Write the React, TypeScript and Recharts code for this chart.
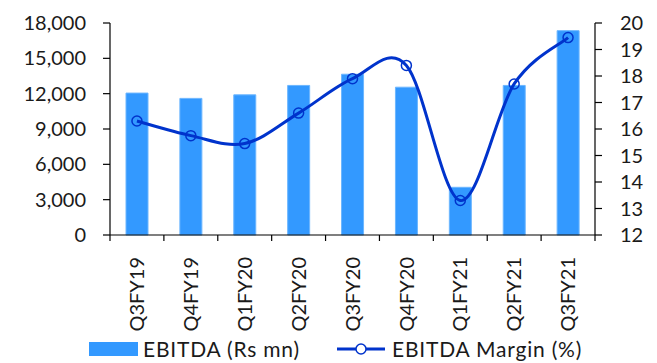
import { ComposedChart, Bar, Line, XAxis, YAxis, Legend } from "recharts";

const quarters = ["Q3FY19", "Q4FY19", "Q1FY20", "Q2FY20", "Q3FY20", "Q4FY20", "Q1FY21", "Q2FY21", "Q3FY21"];
const ebitda = [12050, 11600, 11900, 12700, 13650, 12550, 4050, 12700, 17350];
const ebitdaMargin = [16.3, 15.75, 15.45, 16.6, 17.9, 18.4, 13.3, 17.7, 19.45];
const leftTicks = [0, 3000, 6000, 9000, 12000, 15000, 18000];
const rightTicks = [12, 13, 14, 15, 16, 17, 18, 19, 20];

const BAR_COLOR = "#3399ff";
const LINE_COLOR = "#0033cc";
const TEXT_COLOR = "#1a1a1a";
const FONT = "Lato, 'Open Sans', sans-serif";

const data = quarters.map((q, i) => ({ q, ebitda: ebitda[i], margin: ebitdaMargin[i] }));

// Excel-style smoothed line (uniform Catmull-Rom as cubic beziers)
function smoothCurve(context: any) {
  let pts: [number, number][] = [];
  return {
    areaStart() {},
    areaEnd() {},
    lineStart() {
      pts = [];
    },
    point(x: number, y: number) {
      pts.push([+x, +y]);
    },
    lineEnd() {
      const n = pts.length;
      if (!n) return;
      context.moveTo(pts[0][0], pts[0][1]);
      for (let i = 0; i < n - 1; i++) {
        const p0 = pts[Math.max(i - 1, 0)];
        const p1 = pts[i];
        const p2 = pts[i + 1];
        const p3 = pts[Math.min(i + 2, n - 1)];
        context.bezierCurveTo(
          p1[0] + (p2[0] - p0[0]) / 6,
          p1[1] + (p2[1] - p0[1]) / 6,
          p2[0] - (p3[0] - p1[0]) / 6,
          p2[1] - (p3[1] - p1[1]) / 6,
          p2[0],
          p2[1]
        );
      }
    },
  };
}

function QuarterTick(props: any) {
  const { x, y, payload, index } = props;
  const half = payload?.offset ?? 27;
  const last = index === quarters.length - 1;
  return (
    <g transform={`translate(${x},${y})`}>
      <line x1={-half} x2={-half} y1={0} y2={6} stroke="#000" strokeWidth={1.2} />
      {last && <line x1={half} x2={half} y1={0} y2={6} stroke="#000" strokeWidth={1.2} />}
      <text
        transform="rotate(-90)"
        x={-22}
        y={0}
        dy="0.36em"
        textAnchor="end"
        fontSize={20}
        fontFamily={FONT}
        fill={TEXT_COLOR}
      >
        {payload.value}
      </text>
    </g>
  );
}

function LegendContent() {
  const label = {
    position: "absolute" as const,
    top: 2,
    fontSize: 21,
    letterSpacing: "0.8px",
    fontFamily: FONT,
    color: TEXT_COLOR,
    lineHeight: "24px",
    whiteSpace: "nowrap" as const,
  };
  return (
    <div style={{ position: "relative", width: 657, height: 28 }}>
      <div style={{ position: "absolute", left: 89, top: 7, width: 49, height: 14, background: BAR_COLOR }} />
      <span style={{ ...label, left: 143 }}>EBITDA (Rs mn)</span>
      <svg style={{ position: "absolute", left: 337, top: 4 }} width={48} height={20}>
        <line x1={0} x2={48} y1={10} y2={10} stroke={LINE_COLOR} strokeWidth={3} />
        <circle cx={24} cy={10} r={5} fill="#fff" stroke={LINE_COLOR} strokeWidth={1.5} />
      </svg>
      <span style={{ ...label, left: 392 }}>EBITDA Margin (%)</span>
    </div>
  );
}

export default function App() {
  const tick = { fontSize: 20, fontFamily: FONT, fill: TEXT_COLOR };
  return (
    <div style={{ position: "absolute", left: 0, top: 0, width: 657, height: 363, background: "#fff" }}>
      <ComposedChart width={657} height={363} data={data} margin={{ top: 23, right: 0, bottom: 0, left: 0 }}>
        <XAxis
          dataKey="q"
          interval={0}
          height={100}
          tickSize={0}
          tickMargin={0}
          tickLine={false}
          axisLine={{ stroke: "#000", strokeWidth: 1.2 }}
          tick={<QuarterTick />}
        />
        <YAxis
          yAxisId="left"
          width={110}
          domain={[0, 18000]}
          ticks={leftTicks}
          interval={0}
          tickSize={7}
          tickMargin={17}
          tick={tick}
          tickLine={{ stroke: "#000", strokeWidth: 1.2 }}
          axisLine={{ stroke: "#000", strokeWidth: 1.2 }}
          tickFormatter={(v: number) => v.toLocaleString("en-US")}
        />
        <YAxis
          yAxisId="right"
          orientation="right"
          width={62}
          domain={[12, 20]}
          ticks={rightTicks}
          interval={0}
          tickSize={7}
          tickMargin={18}
          tick={tick}
          tickLine={{ stroke: "#000", strokeWidth: 1.2 }}
          axisLine={{ stroke: "#000", strokeWidth: 1.2 }}
        />
        <Legend verticalAlign="bottom" height={28} wrapperStyle={{ left: 0, bottom: 0, width: 657 }} content={<LegendContent />} />
        <Bar
          yAxisId="left"
          dataKey="ebitda"
          barSize={22}
          fill={BAR_COLOR}
          stroke="#6cb6ff"
          strokeWidth={1}
          isAnimationActive={false}
        />
        <Line
          yAxisId="right"
          dataKey="margin"
          type={smoothCurve as any}
          stroke={LINE_COLOR}
          strokeWidth={3}
          dot={{ r: 5, fill: "none", stroke: LINE_COLOR, strokeWidth: 1.5 }}
          activeDot={false}
          isAnimationActive={false}
        />
      </ComposedChart>
    </div>
  );
}
